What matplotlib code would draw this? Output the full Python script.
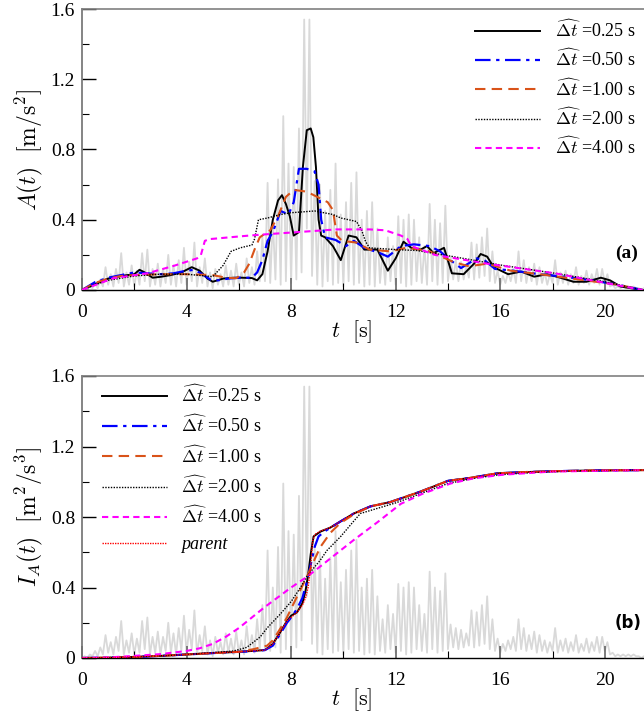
import numpy as np
import matplotlib
matplotlib.use("Agg")
import matplotlib.pyplot as plt
from matplotlib.ticker import MultipleLocator, FuncFormatter

plt.rcParams["font.family"] = ["Liberation Serif", "DejaVu Serif"]
plt.rcParams["mathtext.fontset"] = "cm"

# ---- ground acceleration |a(t)| (m/s^2), sampled every 0.1 s ----
acc_dt = 0.1
acc_abs = [
    0.00, 0.01, 0.00, 0.02, 0.01, 0.04, 0.01, 0.06, 0.02, 0.13,
    0.03, 0.09, 0.02, 0.12, 0.04, 0.21, 0.02, 0.10, 0.03, 0.14,
    0.02, 0.11, 0.03, 0.21, 0.05, 0.23, 0.02, 0.12, 0.03, 0.15,
    0.02, 0.12, 0.04, 0.20, 0.03, 0.14, 0.02, 0.17, 0.04, 0.24,
    0.03, 0.16, 0.05, 0.27, 0.02, 0.13, 0.04, 0.18, 0.02, 0.10,
    0.01, 0.12, 0.03, 0.09, 0.02, 0.14, 0.03, 0.11, 0.02, 0.15,
    0.03, 0.10, 0.02, 0.18, 0.04, 0.13, 0.03, 0.22, 0.05, 0.30,
    0.05, 0.61, 0.04, 0.40, 0.06, 0.63, 0.03, 0.99, 0.05, 0.72,
    0.04, 0.70, 0.06, 0.92, 0.10, 1.54, 0.35, 1.54, 0.08, 0.62,
    0.03, 0.60, 0.02, 0.45, 0.05, 0.57, 0.03, 0.72, 0.04, 0.43,
    0.02, 0.50, 0.05, 0.61, 0.03, 0.67, 0.04, 0.40, 0.02, 0.45,
    0.03, 0.50, 0.02, 0.35, 0.04, 0.22, 0.03, 0.30, 0.05, 0.25,
    0.03, 0.42, 0.04, 0.40, 0.02, 0.43, 0.03, 0.40, 0.05, 0.30,
    0.04, 0.25, 0.03, 0.49, 0.05, 0.40, 0.03, 0.38, 0.04, 0.48,
    0.05, 0.19, 0.06, 0.17, 0.05, 0.16, 0.06, 0.14, 0.07, 0.27,
    0.06, 0.26, 0.07, 0.30, 0.08, 0.35, 0.05, 0.22, 0.04, 0.11,
    0.03, 0.08, 0.04, 0.10, 0.05, 0.12, 0.04, 0.22, 0.05, 0.17,
    0.04, 0.13, 0.05, 0.15, 0.03, 0.13, 0.04, 0.10, 0.03, 0.09,
    0.04, 0.17, 0.03, 0.10, 0.04, 0.11, 0.03, 0.09, 0.04, 0.13,
    0.03, 0.08, 0.04, 0.11, 0.03, 0.09, 0.04, 0.12, 0.03, 0.12,
    0.04, 0.09, 0.02, 0.03, 0.01, 0.02, 0.01, 0.02, 0.01, 0.02,
    0.01, 0.02, 0.01, 0.01, 0.00, 0.01,
]
acc_t = np.arange(len(acc_abs)) * acc_dt

# ---- moving RMS A(t) for each window length ----
tA_025 = [0, 0.3, 0.6, 1.0, 1.5, 2.0, 2.2, 2.4, 2.7, 3.0, 3.4, 3.8, 4.2, 4.5, 4.8,
          5.0, 5.4, 5.8, 6.1, 6.5, 6.7, 6.9, 7.1, 7.3, 7.5, 7.65, 7.8, 7.95, 8.1,
          8.3, 8.45, 8.6, 8.75, 8.85, 8.95, 9.05, 9.15, 9.3, 9.6, 9.9, 10.2, 10.5,
          10.8, 11.3, 11.7, 12.0, 12.3, 12.6, 12.95, 13.2, 13.45, 13.85, 14.15,
          14.6, 15.0, 15.25, 15.5, 15.75, 16.3, 16.8, 17.3, 17.8, 18.3, 18.8,
          19.3, 19.85, 20.2, 20.6, 21.0, 21.45]
A_025 = [0, 0.02, 0.04, 0.065, 0.08, 0.09, 0.115, 0.10, 0.07, 0.075, 0.085, 0.10,
         0.13, 0.11, 0.065, 0.047, 0.065, 0.07, 0.07, 0.068, 0.055, 0.09, 0.22,
         0.40, 0.51, 0.54, 0.49, 0.42, 0.31, 0.33, 0.70, 0.91, 0.92, 0.87, 0.70,
         0.40, 0.31, 0.30, 0.25, 0.17, 0.31, 0.30, 0.23, 0.23, 0.11, 0.18, 0.275,
         0.24, 0.23, 0.25, 0.21, 0.24, 0.095, 0.09, 0.15, 0.205, 0.19, 0.13, 0.09,
         0.105, 0.076, 0.09, 0.07, 0.047, 0.047, 0.07, 0.055, 0.02, 0.01, 0.0]

tA_050 = [0, 0.5, 1.0, 1.5, 2.0, 2.5, 3.0, 3.5, 4.0, 4.3, 4.6, 4.9, 5.2, 5.6, 6.0,
          6.5, 6.7, 6.9, 7.1, 7.3, 7.6, 7.9, 8.1, 8.3, 8.6, 8.9, 9.05, 9.15, 9.3,
          9.7, 10.1, 10.4, 10.8, 11.4, 11.7, 12.2, 12.7, 13.3, 13.7, 14.0, 14.5,
          15.1, 15.4, 15.8, 16.5, 17.5, 18.5, 19.5, 20.5, 21.45]
A_050 = [0, 0.045, 0.07, 0.085, 0.10, 0.095, 0.09, 0.095, 0.11, 0.115, 0.09, 0.06,
         0.055, 0.065, 0.07, 0.07, 0.10, 0.17, 0.28, 0.33, 0.45, 0.43, 0.50, 0.69,
         0.69, 0.675, 0.60, 0.40, 0.30, 0.285, 0.25, 0.28, 0.24, 0.21, 0.19, 0.25,
         0.26, 0.25, 0.22, 0.18, 0.125, 0.18, 0.17, 0.12, 0.11, 0.09, 0.075, 0.055,
         0.03, 0.0]

tA_100 = [0, 0.5, 1.0, 1.5, 2.0, 3.0, 4.0, 5.0, 5.5, 5.9, 6.2, 6.4, 6.6, 6.8, 7.2,
          7.5, 7.8, 8.1, 8.6, 9.0, 9.4, 9.6, 9.75, 9.95, 10.5, 11.0, 11.8, 12.4,
          12.9, 13.3, 14.2, 14.8, 15.5, 16.4, 17.5, 18.5, 19.5, 20.5, 21.45]
A_100 = [0, 0.04, 0.065, 0.08, 0.085, 0.09, 0.09, 0.085, 0.07, 0.067, 0.10, 0.15,
         0.23, 0.30, 0.34, 0.42, 0.53, 0.57, 0.56, 0.53, 0.50, 0.455, 0.31, 0.28,
         0.27, 0.23, 0.22, 0.24, 0.23, 0.22, 0.16, 0.135, 0.15, 0.11, 0.09, 0.07,
         0.05, 0.03, 0.0]

tA_200 = [0, 0.5, 1.0, 2.0, 3.0, 4.0, 5.0, 5.4, 5.7, 6.05, 6.5, 6.6, 6.75, 7.1, 7.6,
          8.0, 8.9, 9.6, 9.9, 10.5, 10.7, 10.85, 11.0, 12.0, 12.8, 14.2, 16.1,
          18.1, 19.9, 21.45]
A_200 = [0, 0.03, 0.055, 0.08, 0.09, 0.09, 0.076, 0.14, 0.22, 0.24, 0.256, 0.29,
         0.40, 0.41, 0.43, 0.44, 0.45, 0.43, 0.41, 0.39, 0.34, 0.275, 0.24, 0.23,
         0.225, 0.19, 0.14, 0.095, 0.05, 0.0]

tA_400 = [0, 1.2, 2.5, 3.5, 4.4, 4.55, 4.7, 4.9, 6.4, 7.3, 9.75, 11.0, 11.6, 12.2,
          12.45, 12.6, 13.5, 15.5, 18.1, 21.45]
A_400 = [0, 0.067, 0.095, 0.137, 0.18, 0.20, 0.28, 0.29, 0.31, 0.32, 0.345, 0.345,
         0.34, 0.31, 0.29, 0.25, 0.20, 0.15, 0.095, 0.0]

# ---- Arias-type cumulative intensity I_A(t) ----
tI_025 = [0, 1, 2, 3, 4, 5, 6, 6.5, 7.0, 7.3, 7.6, 7.84, 8.0, 8.23, 8.43, 8.55,
          8.65, 8.75, 8.86, 9.12, 9.5, 9.88, 10.4, 11.03, 11.8, 12.95, 14.0,
          14.9, 15.9, 17.0, 18.1, 19.5, 21.5]
I_025 = [0, 0.002, 0.006, 0.012, 0.02, 0.028, 0.035, 0.04, 0.045, 0.08, 0.15,
         0.21, 0.24, 0.26, 0.31, 0.38, 0.47, 0.59, 0.69, 0.717, 0.74, 0.774, 0.82,
         0.86, 0.885, 0.944, 1.005, 1.023, 1.048, 1.055, 1.06, 1.064, 1.066]

tI_050 = [0, 1, 2, 3, 4, 5, 6, 6.5, 7.0, 7.3, 7.6, 7.84, 8.0, 8.23, 8.43, 8.6,
          8.75, 8.9, 9.05, 9.3, 9.88, 10.4, 11.03, 11.8, 12.95, 14.0, 14.9, 15.9,
          17.0, 18.1, 19.5, 21.5]
I_050 = [0, 0.002, 0.006, 0.012, 0.02, 0.028, 0.035, 0.038, 0.045, 0.07, 0.14,
         0.20, 0.23, 0.28, 0.34, 0.43, 0.53, 0.63, 0.69, 0.72, 0.774, 0.82, 0.86,
         0.885, 0.944, 1.005, 1.023, 1.048, 1.055, 1.06, 1.064, 1.066]

tI_100 = [0, 1, 2, 3, 4, 5, 6, 6.56, 7.08, 7.3, 7.6, 7.84, 8.1, 8.3, 8.6, 8.9,
          9.12, 9.5, 9.88, 10.4, 11.03, 11.8, 12.95, 14.0, 14.9, 15.9, 17.0,
          18.1, 19.5, 21.5]
I_100 = [0, 0.002, 0.006, 0.012, 0.02, 0.028, 0.035, 0.05, 0.07, 0.10, 0.17,
         0.23, 0.31, 0.37, 0.46, 0.56, 0.63, 0.71, 0.765, 0.815, 0.86, 0.885,
         0.944, 1.005, 1.023, 1.048, 1.055, 1.06, 1.064, 1.066]

tI_200 = [0, 1, 2, 3, 4, 5, 5.8, 6.3, 6.56, 6.82, 7.08, 7.59, 8.0, 8.36, 8.61,
          9.12, 9.37, 9.9, 10.3, 10.65, 12.0, 13.0, 14.0, 15.0, 16.0, 17.5,
          19.0, 21.5]
I_200 = [0, 0.002, 0.006, 0.012, 0.02, 0.03, 0.04, 0.06, 0.09, 0.12, 0.17, 0.25,
         0.32, 0.40, 0.465, 0.556, 0.61, 0.69, 0.76, 0.82, 0.88, 0.935, 0.99,
         1.02, 1.04, 1.055, 1.062, 1.066]

tI_400 = [0, 1, 2, 3, 4, 4.5, 5.0, 5.5, 6.0, 6.5, 7.0, 7.5, 8.0, 8.6, 9.12, 10.4,
          11.3, 12.2, 13.0, 14.1, 15.0, 16.1, 18.0, 21.5]
I_400 = [0, 0.003, 0.012, 0.022, 0.04, 0.055, 0.08, 0.12, 0.17, 0.23, 0.29, 0.345,
         0.40, 0.46, 0.52, 0.67, 0.77, 0.875, 0.93, 0.99, 1.02, 1.04, 1.058, 1.066]

tI_parent = [0, 1, 2, 3, 4, 5, 6, 6.5, 7.0, 7.3, 7.6, 7.84, 8.0, 8.23, 8.43, 8.55,
             8.65, 8.75, 8.82, 8.9, 9.12, 9.5, 9.88, 10.4, 11.03, 11.8, 12.95,
             14.0, 14.9, 15.9, 17.0, 18.1, 19.5, 21.5]
I_parent = [0, 0.002, 0.006, 0.012, 0.02, 0.028, 0.035, 0.04, 0.045, 0.08, 0.15,
            0.21, 0.23, 0.26, 0.30, 0.34, 0.40, 0.52, 0.66, 0.70, 0.72, 0.74,
            0.774, 0.82, 0.86, 0.885, 0.944, 1.005, 1.023, 1.048, 1.055, 1.06,
            1.064, 1.066]

labels = [r"$\widehat{\Delta t}$ =0.25 s", r"$\widehat{\Delta t}$ =0.50 s",
          r"$\widehat{\Delta t}$ =1.00 s", r"$\widehat{\Delta t}$ =2.00 s",
          r"$\widehat{\Delta t}$ =4.00 s"]

styles = [
    dict(color="black", lw=1.4, ls="-"),
    dict(color="#0000ff", lw=1.6, dashes=[7, 2.5, 1.5, 2.5]),
    dict(color="#d95319", lw=1.5, dashes=[5, 3]),
    dict(color="black", lw=1.0, dashes=[1, 1]),
    dict(color="#ff00ff", lw=1.5, dashes=[3, 2]),
]
parent_style = dict(color="#ff0000", lw=1.0, dashes=[1, 0.8])

W, H = 644, 722
fig = plt.figure(figsize=(W / 100, H / 100), dpi=100)
ax1 = fig.add_axes([82 / W, 1 - 290 / H, 562 / W, 281 / H])
ax2 = fig.add_axes([82 / W, 1 - 658 / H, 562 / W, 282 / H])


def style_axes(ax):
    ax.set_xlim(0, 21.5)
    ax.set_ylim(0, 1.6)
    ax.xaxis.set_major_locator(MultipleLocator(4))
    ax.xaxis.set_minor_locator(MultipleLocator(2))
    ax.yaxis.set_major_locator(MultipleLocator(0.4))
    ax.yaxis.set_minor_locator(MultipleLocator(0.2))
    ax.yaxis.set_major_formatter(FuncFormatter(lambda v, p: "0" if abs(v) < 1e-9 else f"{v:.1f}"))
    ax.tick_params(axis="both", which="both", direction="in", top=False, right=False,
                   labelsize=14)
    ax.tick_params(axis="x", which="major", length=9, width=1.2, color="#666666", pad=10)
    ax.tick_params(axis="x", which="minor", length=5, width=0.8, color="black")
    ax.tick_params(axis="y", which="major", length=10, width=1.0, color="black", pad=5)
    ax.tick_params(axis="y", which="minor", length=5, width=0.8, color="black")
    ax.spines["right"].set_visible(False)
    ax.spines["top"].set_color("#808080")
    ax.spines["top"].set_linewidth(1.2)
    ax.spines["left"].set_color("#707070")
    ax.spines["left"].set_linewidth(1.2)
    ax.spines["bottom"].set_color("black")
    ax.spines["bottom"].set_linewidth(1.0)
    ax.set_xlabel(r"$t\ \ [\mathrm{s}]$", fontsize=16, labelpad=0)
    ax.xaxis.set_label_coords(0.48, -0.1)


for ax in (ax1, ax2):
    ax.plot(acc_t, acc_abs, color="#d9d9d9", lw=1.3, zorder=1)
    style_axes(ax)

# panel (a): moving RMS
series_a = [(tA_025, A_025), (tA_050, A_050), (tA_100, A_100), (tA_200, A_200), (tA_400, A_400)]
for (tt, vv), st, lab in zip(series_a, styles, labels):
    ax1.plot(tt, vv, label=lab, zorder=3, **st)
ax1.set_ylabel(r"$A(t)\ \ [\mathrm{m/s^2}]$", fontsize=17, labelpad=4)
leg1 = ax1.legend(loc="upper left", bbox_to_anchor=(0.70, 0.962), frameon=False,
                  fontsize=13, handlelength=3.6, handletextpad=0.8, labelspacing=0.45,
                  borderpad=0, borderaxespad=0)
ax1.text(0.99, 0.13, "(a)", transform=ax1.transAxes, ha="right", va="center",
         fontsize=14, fontweight="bold", family="Liberation Serif")

# panel (b): cumulative intensity
series_b = [(tI_025, I_025), (tI_050, I_050), (tI_100, I_100), (tI_200, I_200), (tI_400, I_400)]
for (tt, vv), st, lab in zip(series_b, styles, labels):
    ax2.plot(tt, vv, label=lab, zorder=3, **st)
ax2.plot(tI_parent, I_parent, label="parent", zorder=4, **parent_style)
ax2.set_ylabel(r"$I_A(t)\ \ [\mathrm{m^2/s^3}]$", fontsize=17, labelpad=4)
leg2 = ax2.legend(loc="upper left", bbox_to_anchor=(0.035, 0.968), frameon=False,
                  fontsize=13, handlelength=3.6, handletextpad=0.8, labelspacing=0.5,
                  borderpad=0, borderaxespad=0)
leg2.get_texts()[-1].set_style("italic")
ax2.text(0.995, 0.125, "(b)", transform=ax2.transAxes, ha="right", va="center",
         fontsize=12, fontweight="bold", family="DejaVu Sans")

fig.savefig("out.png", dpi=100)
